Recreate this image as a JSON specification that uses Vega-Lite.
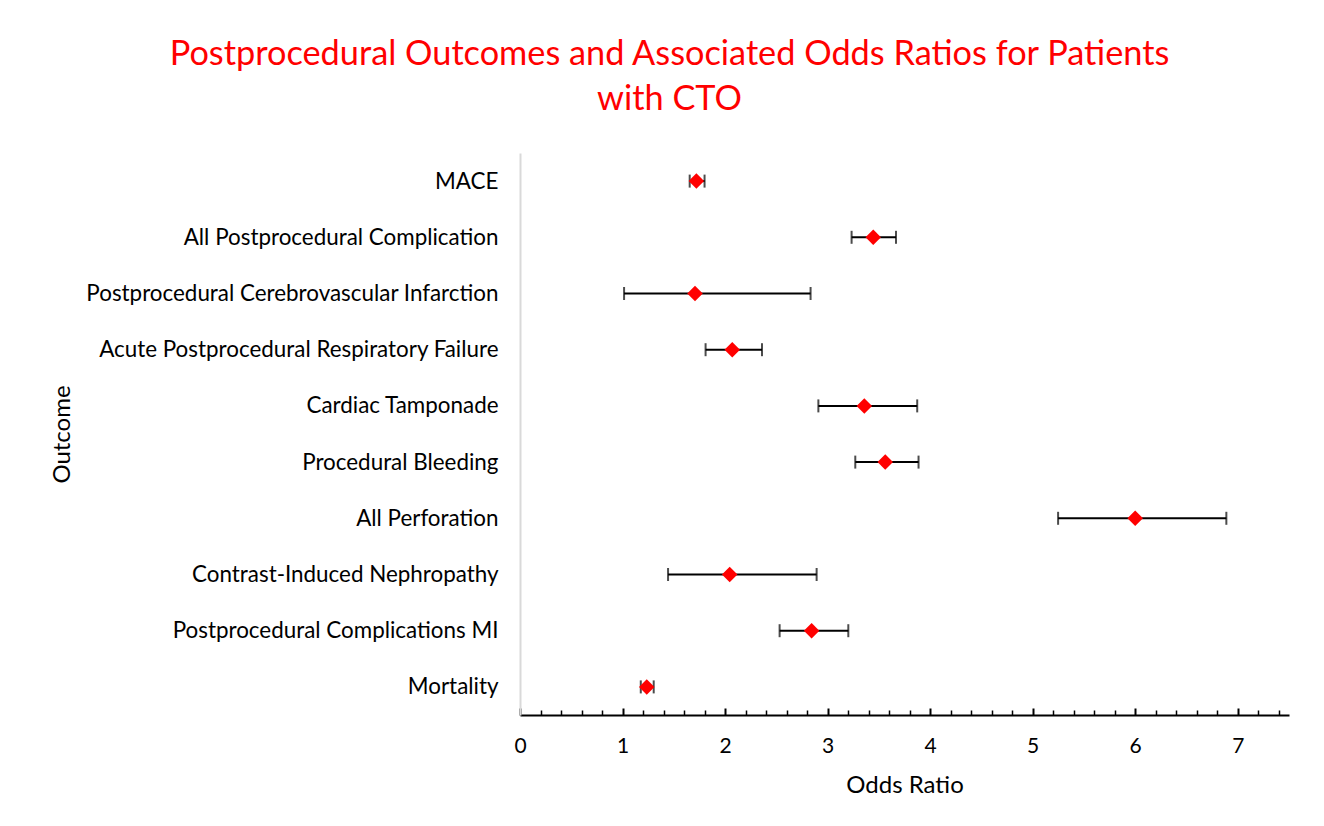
{
  "$schema": "https://vega.github.io/schema/vega-lite/v6.json",
  "autosize": "none",
  "width": 769,
  "height": 562,
  "padding": {"left": 520, "top": 153, "right": 35, "bottom": 111},
  "background": "white",
  "config": {"view": {"stroke": null}, "font": "Lato"},
  "title": {
    "text": ["Postprocedural Outcomes and Associated Odds Ratios for Patients", "with CTO"],
    "color": "#FF0000",
    "fontSize": 34.3,
    "fontWeight": "normal",
    "font": "Lato",
    "lineHeight": 45,
    "anchor": "middle",
    "frame": "bounds",
    "offset": 36
  },
  "data": {
    "values": [
      {"Outcome": "MACE", "OR": 1.72, "lo": 1.655, "hi": 1.80},
      {"Outcome": "All Postprocedural Complication", "OR": 3.445, "lo": 3.234, "hi": 3.667},
      {"Outcome": "Postprocedural Cerebrovascular Infarction", "OR": 1.707, "lo": 1.015, "hi": 2.834},
      {"Outcome": "Acute Postprocedural Respiratory Failure", "OR": 2.07, "lo": 1.81, "hi": 2.36},
      {"Outcome": "Cardiac Tamponade", "OR": 3.358, "lo": 2.91, "hi": 3.874},
      {"Outcome": "Procedural Bleeding", "OR": 3.562, "lo": 3.27, "hi": 3.887},
      {"Outcome": "All Perforation", "OR": 6.0, "lo": 5.248, "hi": 6.889},
      {"Outcome": "Contrast-Induced Nephropathy", "OR": 2.045, "lo": 1.444, "hi": 2.893},
      {"Outcome": "Postprocedural Complications MI", "OR": 2.844, "lo": 2.532, "hi": 3.202},
      {"Outcome": "Mortality", "OR": 1.236, "lo": 1.178, "hi": 1.304}
    ]
  },
  "encoding": {
    "y": {
      "field": "Outcome",
      "type": "nominal",
      "sort": null,
      "scale": {"type": "point", "padding": 0.5},
      "axis": {
        "title": "Outcome",
        "titleFont": "Lato",
        "titleFontSize": 24,
        "titleFontWeight": "normal",
        "titleColor": "black",
        "titleX": -458,
        "titleY": 281,
        "titleAngle": -90,
        "titleAlign": "center",
        "titleBaseline": "middle",
        "labelFont": "Lato",
        "labelFontSize": 22.4,
        "labelColor": "black",
        "labelPadding": 22,
        "labelLimit": 600,
        "ticks": false,
        "domainColor": "#d9d9d9",
        "domainWidth": 2,
        "grid": false
      }
    }
  },
  "layer": [
    {
      "mark": {"type": "rule", "color": "black", "strokeWidth": 2},
      "encoding": {
        "x": {
          "field": "lo",
          "type": "quantitative",
          "scale": {"domain": [0, 7.5], "nice": false, "zero": true},
          "axis": {
            "title": "Odds Ratio",
            "titleFont": "Lato",
            "titleFontSize": 24,
            "titleFontWeight": "normal",
            "titleColor": "black",
            "titlePadding": 17,
            "values": [0, 1, 2, 3, 4, 5, 6, 7],
            "format": "d",
            "labelFont": "Lato",
            "labelFontSize": 21,
            "labelColor": "black",
            "labelPadding": 27,
            "labelFlush": false,
            "tickSize": -7,
            "tickWidth": 2,
            "tickColor": "black",
            "domainColor": "black",
            "domainWidth": 2,
            "grid": false,
            "orient": "bottom"
          }
        },
        "x2": {"field": "hi"}
      }
    },
    {
      "mark": {"type": "tick", "color": "black", "thickness": 2, "size": 13, "orient": "vertical"},
      "encoding": {
        "x": {
          "field": "lo",
          "type": "quantitative",
          "axis": {
            "orient": "bottom",
            "title": null,
            "values": [0.2, 0.4, 0.6, 0.8, 1.2, 1.4, 1.6, 1.8, 2.2, 2.4, 2.6, 2.8, 3.2, 3.4, 3.6, 3.8, 4.2, 4.4, 4.6, 4.8, 5.2, 5.4, 5.6, 5.8, 6.2, 6.4, 6.6, 6.8, 7.2, 7.4],
            "labels": false,
            "domain": false,
            "grid": false,
            "tickSize": -5,
            "tickWidth": 1.5,
            "tickColor": "black"
          }
        }
      }
    },
    {
      "mark": {"type": "tick", "color": "black", "thickness": 2, "size": 13, "orient": "vertical"},
      "encoding": {
        "x": {"field": "hi", "type": "quantitative", "axis": null}
      }
    },
    {
      "mark": {"type": "point", "shape": "diamond", "filled": true, "color": "#FF0000", "opacity": 1, "size": 240},
      "encoding": {
        "x": {"field": "OR", "type": "quantitative", "axis": null}
      }
    }
  ],
  "resolve": {"axis": {"x": "independent"}}
}
